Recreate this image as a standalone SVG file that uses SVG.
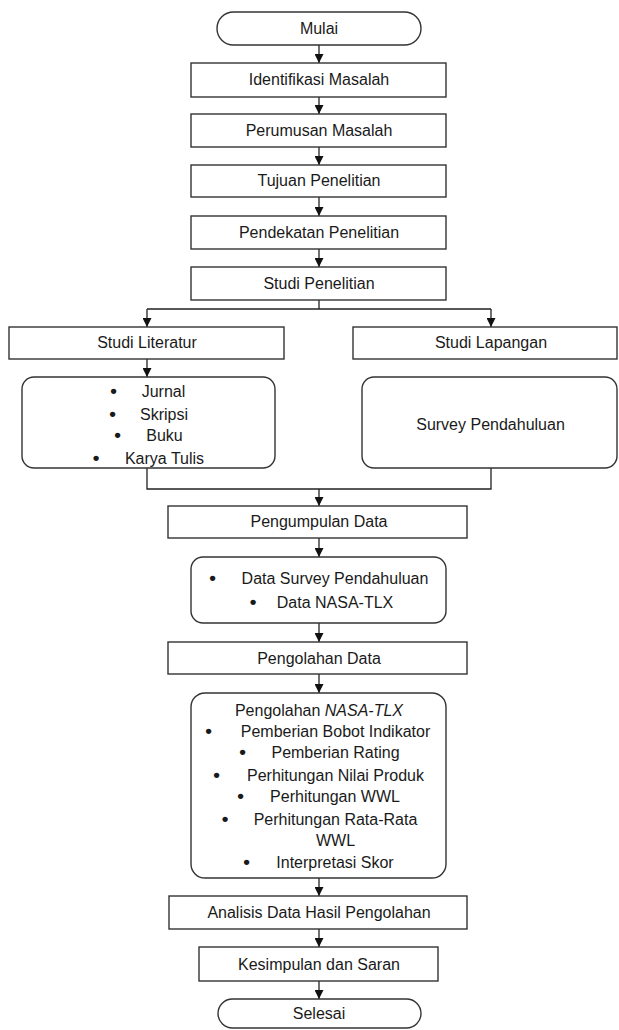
<svg xmlns="http://www.w3.org/2000/svg" width="619" height="1030" viewBox="0 0 619 1030">
<style>
.box{fill:#fff;stroke:#333;stroke-width:1.4}
.t{font-family:"Liberation Sans",Arial,sans-serif;font-size:16px;fill:#1a1a1a;text-anchor:middle}
.b{font-size:19px;font-weight:bold}
.c{fill:none;stroke:#222;stroke-width:1.3}
</style>
<defs>
<marker id="ah" markerUnits="userSpaceOnUse" markerWidth="9" markerHeight="9" refX="9" refY="4.5" orient="auto">
<path d="M0,0 L9,4.5 L0,9 z" fill="#111"/>
</marker>
</defs>
<rect width="619" height="1030" fill="#fff"/>
<g id="connectors">
<path class="c" d="M319,45 V63" marker-end="url(#ah)"/>
<path class="c" d="M319,97 V114" marker-end="url(#ah)"/>
<path class="c" d="M319,147 V165" marker-end="url(#ah)"/>
<path class="c" d="M319,197 V216" marker-end="url(#ah)"/>
<path class="c" d="M319,249 V267" marker-end="url(#ah)"/>
<path class="c" d="M319,300 V309 M147,309 H491"/>
<path class="c" d="M147,309 V327" marker-end="url(#ah)"/>
<path class="c" d="M491,309 V327" marker-end="url(#ah)"/>
<path class="c" d="M147,359 V377" marker-end="url(#ah)"/>
<path class="c" d="M147,468 V489 H491 V468"/>
<path class="c" d="M319,489 V506" marker-end="url(#ah)"/>
<path class="c" d="M319,538 V557" marker-end="url(#ah)"/>
<path class="c" d="M319,623 V642" marker-end="url(#ah)"/>
<path class="c" d="M319,674 V693" marker-end="url(#ah)"/>
<path class="c" d="M319,878 V896" marker-end="url(#ah)"/>
<path class="c" d="M319,929 V947" marker-end="url(#ah)"/>
<path class="c" d="M319,981 V999" marker-end="url(#ah)"/>
</g>
<g id="mulai"><rect class="box" x="217" y="12" width="204" height="33" rx="16.5"/><text class="t" x="319" y="34">Mulai</text></g>
<g id="identifikasi"><rect class="box" x="191" y="63" width="255" height="34"/><text class="t" x="319" y="85">Identifikasi Masalah</text></g>
<g id="perumusan"><rect class="box" x="191" y="114" width="255" height="33"/><text class="t" x="319" y="136">Perumusan Masalah</text></g>
<g id="tujuan"><rect class="box" x="191" y="165" width="255" height="32"/><text class="t" x="319" y="186">Tujuan Penelitian</text></g>
<g id="pendekatan"><rect class="box" x="191" y="216" width="255" height="33"/><text class="t" x="319" y="238">Pendekatan Penelitian</text></g>
<g id="studi-penelitian"><rect class="box" x="191" y="267" width="255" height="33"/><text class="t" x="319" y="289">Studi Penelitian</text></g>
<g id="studi-literatur"><rect class="box" x="9" y="327" width="275" height="32"/><text class="t" x="147" y="348">Studi Literatur</text></g>
<g id="studi-lapangan"><rect class="box" x="353" y="327" width="264" height="32"/><text class="t" x="491" y="348">Studi Lapangan</text></g>
<g id="literatur-list"><rect class="box" x="22" y="377" width="253" height="91" rx="12"/>
<text class="t" y="397"><tspan class="b" x="113.5">•</tspan><tspan x="163.5">Jurnal</tspan></text>
<text class="t" y="420"><tspan class="b" x="112.5">•</tspan><tspan x="164">Skripsi</tspan></text>
<text class="t" y="441"><tspan class="b" x="117.5">•</tspan><tspan x="164.5">Buku</tspan></text>
<text class="t" y="464"><tspan class="b" x="96">•</tspan><tspan x="164.5">Karya Tulis</tspan></text>
</g>
<g id="survey"><rect class="box" x="362" y="377" width="255" height="91" rx="12"/><text class="t" x="490.5" y="430">Survey Pendahuluan</text></g>
<g id="pengumpulan"><rect class="box" x="168" y="506" width="299" height="32"/><text class="t" x="319" y="527">Pengumpulan Data</text></g>
<g id="data-list"><rect class="box" x="191" y="557" width="255" height="66" rx="12"/>
<text class="t" y="584"><tspan class="b" x="212.5">•</tspan><tspan x="335">Data Survey Pendahuluan</tspan></text>
<text class="t" y="608"><tspan class="b" x="253">•</tspan><tspan x="335">Data NASA-TLX</tspan></text>
</g>
<g id="pengolahan"><rect class="box" x="168" y="642" width="299" height="32"/><text class="t" x="319" y="664">Pengolahan Data</text></g>
<g id="nasa-list"><rect class="box" x="191" y="693" width="255" height="185" rx="14"/>
<text class="t" x="319" y="716">Pengolahan <tspan font-style="italic">NASA-TLX</tspan></text>
<text class="t" y="737"><tspan class="b" x="208.5">•</tspan><tspan x="335.5">Pemberian Bobot Indikator</tspan></text>
<text class="t" y="758"><tspan class="b" x="242.5">•</tspan><tspan x="335.5">Pemberian Rating</tspan></text>
<text class="t" y="781"><tspan class="b" x="216.5">•</tspan><tspan x="335.5">Perhitungan Nilai Produk</tspan></text>
<text class="t" y="802"><tspan class="b" x="240.5">•</tspan><tspan x="335">Perhitungan WWL</tspan></text>
<text class="t" y="825"><tspan class="b" x="225">•</tspan><tspan x="335.5">Perhitungan Rata-Rata</tspan></text>
<text class="t" x="335.5" y="846">WWL</text>
<text class="t" y="868"><tspan class="b" x="246.5">•</tspan><tspan x="335">Interpretasi Skor</tspan></text>
</g>
<g id="analisis"><rect class="box" x="169" y="896" width="298" height="33"/><text class="t" x="319" y="918">Analisis Data Hasil Pengolahan</text></g>
<g id="kesimpulan"><rect class="box" x="199" y="947" width="239" height="34"/><text class="t" x="319" y="970">Kesimpulan dan Saran</text></g>
<g id="selesai"><rect class="box" x="218" y="999" width="203" height="29" rx="14.5"/><text class="t" x="319" y="1019">Selesai</text></g>
</svg>
